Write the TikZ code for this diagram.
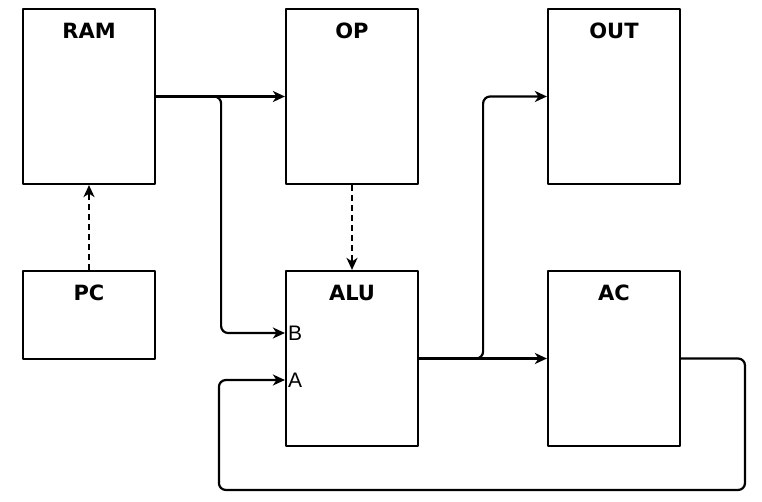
\documentclass[tikz,border=0pt]{standalone}
\usepackage{fontspec}
\usepackage{tikz}
\usetikzlibrary{arrows.meta,calc}
\newfontfamily\titlefont{DejaVu Sans}
\newfontfamily\portfont{Liberation Sans}

\begin{document}
\begin{tikzpicture}[
  x=1pt, y=-1pt,
  >={Stealth[length=12pt,width=11pt,inset=3.5pt]},
  line join=round,
  every node/.style={inner sep=0pt},
  unit/.style={draw, line width=2.2pt, minimum width=132pt, minimum height=#1},
  unit/.default=175pt,
  title/.style={font=\titlefont\bfseries\fontsize{21}{21}\selectfont},
  port/.style={font=\portfont\fontsize{21}{21}\selectfont, anchor=west}
]
  \useasboundingbox (0,0) rectangle (762,502);

  % The registers
  \node[unit] (ram) at ( 89, 96.5) {};
  \node[unit] (op)  at (352, 96.5) {};
  \node[unit] (out) at (614, 96.5) {};
  \node[unit=88pt] (pc) at ( 89, 315) {};
  \node[unit] (alu) at (352, 358.5) {};
  \node[unit] (ac)  at (614, 358.5) {};

  \node[title] (ramname) at ([yshift=-23pt]ram.north) {RAM};
  \node[title] (opname)  at ([yshift=-23pt]op.north)  {OP};
  \node[title] (outname) at ([yshift=-23pt]out.north) {OUT};
  \node[title] (pcname)  at ([yshift=-23pt]pc.north)  {PC};
  \node[title] (aluname) at ([yshift=-23pt]alu.north) {ALU};
  \node[title] (acname)  at ([yshift=-23pt]ac.north)  {AC};

  % ALU inputs
  \coordinate (inB) at ([yshift=25.5pt]alu.west);
  \coordinate (inA) at ([yshift=-21.5pt]alu.west);
  \node[port] (bname) at ([xshift=3pt]inB) {B};
  \node[port] (aname) at ([xshift=3pt]inA) {A};

  % Data paths
  \draw[->, line width=2.2pt] (ram) -- (op);
  \draw[->, line width=2.2pt, rounded corners=7pt] (ram.east) -- ++(65,0) |- (inB);
  \draw[->, line width=2.2pt] (alu) -- (ac);
  \draw[->, line width=2.2pt, rounded corners=7pt] (alu.east) -- ++(64,0) |- (out.west);

  % Accumulator feedback
  \coordinate (loop) at (745,490);
  \draw[->, line width=2.2pt, rounded corners=7pt] (ac.east) -| (loop) -| ([xshift=-66pt]inA) -- (inA);

  % Control paths
  \draw[->, line width=2.2pt, dash pattern=on 6pt off 4pt] (pc) -- (ram);
  \draw[->, line width=2.2pt, dash pattern=on 6pt off 4pt] (op) -- (alu);
\end{tikzpicture}
\end{document}
